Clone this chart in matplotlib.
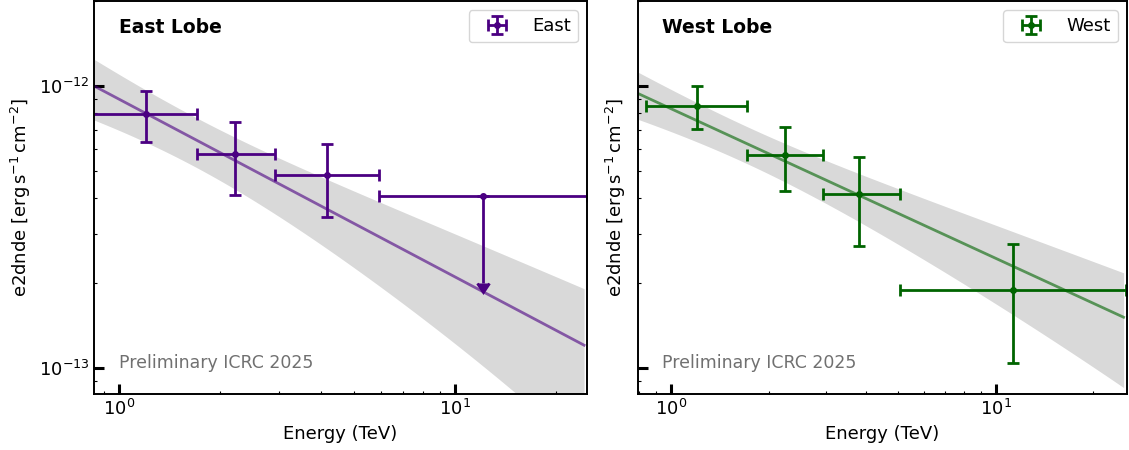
import numpy as np
import matplotlib.pyplot as plt
from matplotlib.ticker import NullFormatter

plt.rcParams['font.size'] = 13

# East lobe flux points (energy in TeV, e2dnde in erg s-1 cm-2)
east_e = [1.20, 2.22, 4.16, 12.14]
east_e_lo = [0.80, 1.71, 2.91, 5.94]
east_e_hi = [1.71, 2.91, 5.94, 24.7]
east_flux = [7.98e-13, 5.74e-13, 4.85e-13, 4.07e-13]
east_flux_lo = [6.34e-13, 4.12e-13, 3.44e-13, 2.01e-13]
east_flux_hi = [9.60e-13, 7.46e-13, 6.23e-13, 4.07e-13]
east_ul = [False, False, False, True]

# West lobe flux points
west_e = [1.20, 2.25, 3.81, 11.3]
west_e_lo = [0.839, 1.717, 2.94, 5.07]
west_e_hi = [1.717, 2.94, 5.07, 25.2]
west_flux = [8.50e-13, 5.70e-13, 4.15e-13, 1.90e-13]
west_flux_lo = [7.03e-13, 4.25e-13, 2.70e-13, 1.045e-13]
west_flux_hi = [1.00e-12, 7.17e-13, 5.61e-13, 2.76e-13]
west_ul = [False, False, False, False]

# power-law fits: e2dnde at 1 TeV, index, errors, decorrelation energy, energy range
east_amp, east_index = 8.98e-13, 2.63
east_amp_err, east_index_err, east_e0 = 0.20, 0.205, 1.65
east_range = (0.80, 24.2)

west_amp, west_index = 8.31e-13, 2.53
west_amp_err, west_index_err, west_e0 = 0.15, 0.153, 1.70
west_range = (0.79, 24.8)


def draw_panel(ax, e, e_lo, e_hi, f, f_lo, f_hi, ul, amp, index, amp_err, index_err, e0,
               erange, color, label, title):
    energy = np.geomspace(erange[0], erange[1], 200)
    model = amp * energy ** (2 - index)
    rel = np.sqrt(amp_err ** 2 + (index_err * np.log(energy / e0)) ** 2)
    ax.fill_between(energy, model * (1 - rel), model * (1 + rel), color='k', alpha=0.15, lw=0)
    ax.plot(energy, model, color=color, alpha=0.6, lw=2)

    e = np.array(e)
    f = np.array(f)
    xerr = [e - np.array(e_lo), np.array(e_hi) - e]
    yerr = [f - np.array(f_lo), np.array(f_hi) - f]
    ax.errorbar(e, f, xerr=xerr, yerr=yerr, uplims=ul, fmt='o', ms=4, color=color,
                elinewidth=2, capsize=4.5, capthick=2, label=label)

    ax.set_xscale('log')
    ax.set_yscale('log')
    ax.set_xlabel('Energy (TeV)')
    ax.set_ylabel(r'e2dnde [$\mathrm{erg\,s^{-1}\,cm^{-2}}$]')
    ax.text(0.05, 0.957, title, transform=ax.transAxes, fontsize=13.5,
            fontweight='bold', va='top', ha='left')
    ax.text(0.05, 0.08, 'Preliminary ICRC 2025', transform=ax.transAxes,
            fontsize=12.5, color='#707070', va='center', ha='left')
    ax.legend(loc='upper right', fontsize=13, handlelength=2.3)
    ax.tick_params(which='major', direction='in', length=7, width=2.2)
    ax.tick_params(which='minor', direction='in', length=2.5, width=0.8)
    ax.xaxis.set_minor_formatter(NullFormatter())
    ax.yaxis.set_minor_formatter(NullFormatter())
    for sp in ax.spines.values():
        sp.set_linewidth(1.4)


fig = plt.figure(figsize=(11.29, 4.5), dpi=100)
ax1 = fig.add_axes([0.0833, 0.1244, 0.4367, 0.8734])
ax2 = fig.add_axes([0.5651, 0.1244, 0.4331, 0.8734], sharey=ax1)

draw_panel(ax1, east_e, east_e_lo, east_e_hi, east_flux, east_flux_lo, east_flux_hi, east_ul,
           east_amp, east_index, east_amp_err, east_index_err, east_e0, east_range,
           'indigo', 'East', 'East Lobe')
draw_panel(ax2, west_e, west_e_lo, west_e_hi, west_flux, west_flux_lo, west_flux_hi, west_ul,
           west_amp, west_index, west_amp_err, west_index_err, west_e0, west_range,
           'darkgreen', 'West', 'West Lobe')

ax1.set_xlim(0.843, 24.7)
ax2.set_xlim(0.792, 25.4)
ax1.set_ylim(8.1e-14, 2.0e-12)
ax2.tick_params(labelleft=False)

fig.savefig('out.png', dpi=100)
